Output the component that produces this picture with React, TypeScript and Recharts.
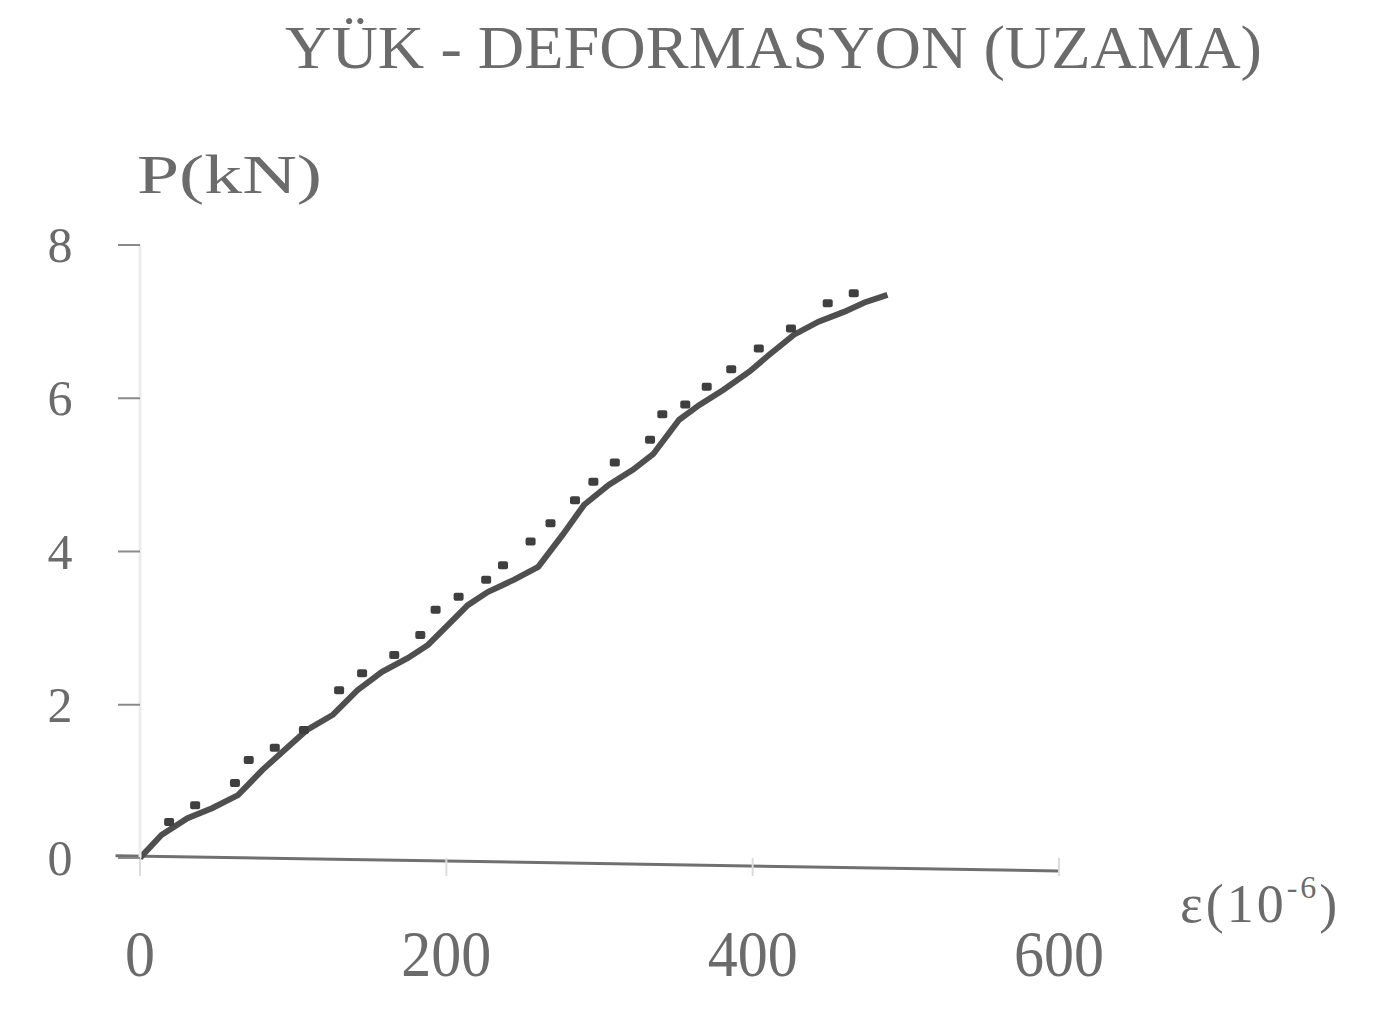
import React from "react";
import {
  ComposedChart,
  Line,
  Scatter,
  XAxis,
  YAxis,
  ReferenceLine,
} from "recharts";

// solid curve (strain in 1e-6, load in kN)
const strainLine = [0, 14, 31, 47, 64, 80, 96, 109, 126, 142, 158, 175, 188, 201, 214, 227, 244, 260, 276, 290, 306, 322, 335, 352, 365, 381, 398, 411, 427, 443, 460, 473, 488];
const loadLine = [0, 0.3, 0.52, 0.65, 0.82, 1.15, 1.44, 1.67, 1.87, 2.19, 2.43, 2.61, 2.78, 3.04, 3.3, 3.47, 3.63, 3.8, 4.22, 4.61, 4.87, 5.07, 5.27, 5.72, 5.91, 6.11, 6.35, 6.57, 6.83, 7.0, 7.13, 7.25, 7.35];

// dotted series
const strainDots = [19, 36, 62, 71, 88, 107, 130, 145, 166, 183, 193, 208, 226, 237, 255, 268, 284, 296, 310, 333, 341, 356, 370, 386, 404, 425, 449, 466];
const loadDots = [0.47, 0.69, 0.98, 1.28, 1.44, 1.67, 2.19, 2.41, 2.65, 2.91, 3.24, 3.41, 3.63, 3.82, 4.13, 4.37, 4.67, 4.91, 5.16, 5.46, 5.79, 5.92, 6.15, 6.38, 6.65, 6.91, 7.24, 7.37];

const xTicks = [0, 200, 400, 600];
const yTicks = [0, 2, 4, 6, 8];

const lineData = strainLine.map((x, i) => ({ x, y: loadLine[i] }));
const dotData = strainDots.map((x, i) => ({ x, y: loadDots[i] }));

const FONT = '"Liberation Serif", "DejaVu Serif", serif';
const INK = "#6b6b6b";

const YTick = (props: any) => {
  const { y, payload } = props;
  return (
    <text x={60} y={y} textAnchor="middle" dominantBaseline="central" fontFamily={FONT} fontSize={50} fill={INK}>
      {payload.value}
    </text>
  );
};

const XTick = (props: any) => {
  const { x, payload } = props;
  return (
    <text
      x={x}
      y={976}
      textAnchor="middle"
      fontFamily={FONT}
      fontSize={60}
      fill={INK}
      transform={`translate(${x} 976) scale(1 1.1) translate(${-x} -976)`}
    >
      {payload.value}
    </text>
  );
};

const DotShape = (props: any) => {
  const { cx, cy } = props;
  if (cx == null || cy == null) return null;
  return <rect x={cx - 5} y={cy - 4} width={10} height={8} rx={2} fill="#3f3f3f" />;
};

export default function App() {
  return (
    <div style={{ position: "absolute", left: 0, top: 0, width: 1390, height: 1009, background: "#fff" }}>
      <ComposedChart
        width={1390}
        height={1009}
        margin={{ top: 245, right: 331, bottom: 51, left: 80 }}
      >
        <XAxis
          type="number"
          dataKey="x"
          domain={[0, 600]}
          ticks={xTicks}
          axisLine={false}
          tickSize={18}
          tickLine={{ stroke: "#dcdcdc", strokeWidth: 2 }}
          tick={<XTick />}
          height={100}
          allowDataOverflow
        />
        <YAxis
          type="number"
          dataKey="y"
          domain={[0, 8]}
          ticks={yTicks}
          width={60}
          tickSize={22}
          axisLine={{ stroke: "#ececec", strokeWidth: 3 }}
          tickLine={{ stroke: "#8a8a8a", strokeWidth: 2 }}
          tick={<YTick />}
        />
        <ReferenceLine
          segment={[{ x: -16, y: 0.03 }, { x: 600, y: -0.17 }]}
          stroke="#707070"
          strokeWidth={3}
          ifOverflow="visible"
        />
        <Line
          data={lineData}
          dataKey="y"
          type="linear"
          stroke="#4f4f4f"
          strokeWidth={6}
          dot={false}
          isAnimationActive={false}
        />
        <Scatter data={dotData} dataKey="y" shape={<DotShape />} isAnimationActive={false} />
      </ComposedChart>
      <svg
        width={1390}
        height={1009}
        style={{ position: "absolute", left: 0, top: 0, pointerEvents: "none" }}
      >
        <text x={285} y={68} textLength={977} lengthAdjust="spacingAndGlyphs" fontFamily={FONT} fontSize={62} fill={INK}>
          YÜK - DEFORMASYON (UZAMA)
        </text>
        <text x={137} y={193} textLength={185} lengthAdjust="spacingAndGlyphs" fontFamily={FONT} fontSize={54} fill={INK}>
          P(kN)
        </text>
        <text x={1180} y={922} fontFamily={FONT} fontSize={54} letterSpacing={3} fill={INK}>
          ε(10
          <tspan dy={-24} fontSize={32}>-6</tspan>
          <tspan dy={24}>)</tspan>
        </text>
      </svg>
    </div>
  );
}
